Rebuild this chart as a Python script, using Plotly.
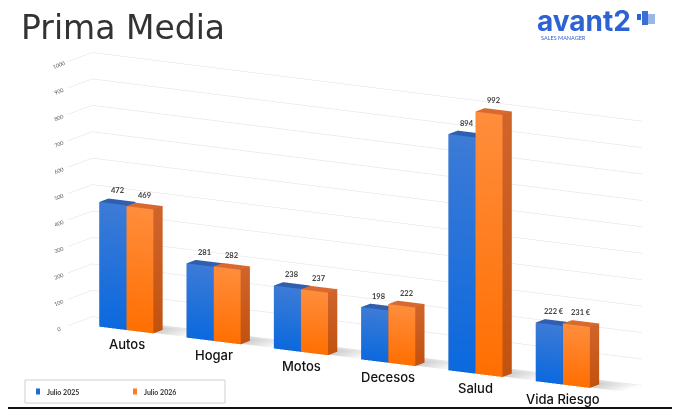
import math
import plotly.graph_objects as go

categories = ["Autos", "Hogar", "Motos", "Decesos", "Salud", "Vida Riesgo"]
series_names = ["Julio 2025", "Julio 2026"]
series_colors = ["#1f6bd0", "#ff7b1f"]
values_2025 = [472, 281, 238, 198, 894, 222]
values_2026 = [469, 282, 237, 222, 992, 231]
labels_2025 = ["472", "281", "238", "198", "894", "222 €"]
labels_2026 = ["469", "282", "237", "222", "992", "231 €"]
z_ticks = [0, 100, 200, 300, 400, 500, 600, 700, 800, 900, 1000]

# page is 680x413; the html body keeps its default 8px margin
OFF = 8
W, H = 680 - OFF, 413 - OFF

def px_x(x):
    return (x - OFF) / W

def px_y(y):
    return 1 - (y - OFF) / H

def box_mesh(values, offset, width, y0, depth, pal, name):
    # pal: front_top, front_bottom, side_top, side_bottom, top, hidden
    ft, fb, st, sb, tp, hd = pal
    xs, ys, zs, I, J, K, vc = [], [], [], [], [], [], []
    for idx, v in enumerate(values):
        x0 = idx + offset - width / 2
        x1 = idx + offset + width / 2
        y1 = y0 + depth
        quads = [
            ([(x0, y0, 0), (x1, y0, 0), (x1, y0, v), (x0, y0, v)], [fb, fb, ft, ft]),
            ([(x1, y0, 0), (x1, y1, 0), (x1, y1, v), (x1, y0, v)], [sb, sb, st, st]),
            ([(x0, y1, 0), (x0, y0, 0), (x0, y0, v), (x0, y1, v)], [sb, sb, st, st]),
            ([(x0, y0, v), (x1, y0, v), (x1, y1, v), (x0, y1, v)], [tp, tp, tp, tp]),
            ([(x0, y1, 0), (x1, y1, 0), (x1, y1, v), (x0, y1, v)], [hd, hd, hd, hd]),
        ]
        for corners, cols in quads:
            base = len(xs)
            for (vx, vy, vz), c in zip(corners, cols):
                xs.append(vx); ys.append(vy); zs.append(vz); vc.append(c)
            I += [base, base]; J += [base + 1, base + 2]; K += [base + 2, base + 3]
    return go.Mesh3d(
        x=xs, y=ys, z=zs, i=I, j=J, k=K, vertexcolor=vc,
        lighting=dict(ambient=1.0, diffuse=0.0, specular=0.0, roughness=1.0, fresnel=0.0),
        name=name, showlegend=False, hoverinfo="skip",
    )

def shadow_mesh(n, half, y0, depth):
    xs, ys, zs, I, J, K, vc = [], [], [], [], [], [], []
    for idx in range(n):
        xl = idx - half + 0.05
        xr = idx + half + 0.38
        yf, yb = y0 + 0.05, y0 + depth + 0.45
        base = len(xs)
        for (vx, vy), c in zip([(xl, yf), (xr, yf), (xr, yb), (xl, yb)],
                               ["#8c8c8c", "#ffffff", "#ffffff", "#d0d0d0"]):
            xs.append(vx); ys.append(vy); zs.append(0); vc.append(c)
        I += [base, base]; J += [base + 1, base + 2]; K += [base + 2, base + 3]
    return go.Mesh3d(
        x=xs, y=ys, z=zs, i=I, j=J, k=K, vertexcolor=vc,
        lighting=dict(ambient=1.0, diffuse=0.0, specular=0.0, roughness=1.0, fresnel=0.0),
        showlegend=False, hoverinfo="skip",
    )

BW = 0.31
Y0 = 0.25
DEPTH = 0.38
blue_pal = ("#3d7bd6", "#0b69de", "#2e5fae", "#1b4f9e", "#2f5fb0", "#153f7a")
orange_pal = ("#ff8d3c", "#ff6f02", "#d0642a", "#c2520f", "#d86a30", "#a8460f")

fig = go.Figure()
fig.add_trace(shadow_mesh(len(categories), BW, Y0, DEPTH))
fig.add_trace(box_mesh(values_2025, -BW / 2, BW, Y0, DEPTH, blue_pal, series_names[0]))
fig.add_trace(box_mesh(values_2026, BW / 2, BW, Y0, DEPTH, orange_pal, series_names[1]))

scene_ann = []
for i, c in enumerate(categories):
    scene_ann.append(dict(x=i, y=Y0, z=0, text=c, showarrow=False, yshift=-14,
                          font=dict(size=13, color="#111111", family="Inter", weight=500)))
for i, (v, t) in enumerate(zip(values_2025, labels_2025)):
    scene_ann.append(dict(x=i - BW / 2, y=Y0 + DEPTH / 2, z=v, text="<b>%s</b>" % t,
                          showarrow=False, yshift=11,
                          font=dict(size=7.5, color="#404040", family="Lato")))
for i, (v, t) in enumerate(zip(values_2026, labels_2026)):
    scene_ann.append(dict(x=i + BW / 2, y=Y0 + DEPTH / 2, z=v, text="<b>%s</b>" % t,
                          showarrow=False, yshift=11,
                          font=dict(size=7.5, color="#404040", family="Lato")))

yaw = math.radians(30)
elev = math.radians(12.5)
dist = 2.0
eye = dict(x=dist * math.sin(yaw) * math.cos(elev),
           y=-dist * math.cos(yaw) * math.cos(elev),
           z=dist * math.sin(elev))

# manual legend box
legend_shapes = [dict(type="rect", xref="paper", yref="paper",
                      x0=px_x(25), x1=px_x(225), y0=px_y(403), y1=px_y(380),
                      line=dict(color="#d0d0d0", width=1), fillcolor="white")]
legend_ann = []
for k, (nm, col) in enumerate(zip(series_names, series_colors)):
    lx = 38 + k * 97
    legend_shapes.append(dict(type="rect", xref="paper", yref="paper",
                              x0=px_x(lx - 2), x1=px_x(lx + 2), y0=px_y(394.5), y1=px_y(388.5),
                              fillcolor=col, line=dict(width=0)))
    legend_ann.append(dict(text="<b>%s</b>" % nm, x=px_x(lx + 7), y=px_y(391.5),
                           xref="paper", yref="paper", xanchor="left", yanchor="middle",
                           showarrow=False, font=dict(size=7, color="#333333", family="Lato")))

fig.update_layout(
    width=W, height=H,
    margin=dict(l=0, r=0, t=0, b=0),
    paper_bgcolor="white", plot_bgcolor="white",
    showlegend=False,
    scene=dict(
        domain=dict(x=[0.045, 0.988], y=[px_y(397), px_y(50)]),
        aspectmode="manual", aspectratio=dict(x=3.66, y=0.28, z=1.56),
        xaxis=dict(range=[-0.6, 5.7], showticklabels=False,
                   showgrid=False, zeroline=False, showline=False, showbackground=False,
                   title=dict(text=""), ticks="", showspikes=False),
        yaxis=dict(range=[0, 1.0], showticklabels=False, showgrid=False, zeroline=False,
                   showline=False, showbackground=False, title=dict(text=""), ticks="",
                   showspikes=False),
        zaxis=dict(range=[0, 1000], tickvals=z_ticks,
                   tickfont=dict(size=8, color="#555555", family="Lato"),
                   showgrid=True, gridcolor="#dedede", gridwidth=1, zeroline=False,
                   showline=False, showbackground=False, title=dict(text=""), ticks="",
                   showspikes=False),
        camera=dict(eye=eye, center=dict(x=0, y=0, z=0),
                    projection=dict(type="orthographic")),
        bgcolor="white",
        annotations=scene_ann,
    ),
    annotations=[
        dict(text="Prima Media", x=px_x(19), y=px_y(27), xref="paper", yref="paper",
             xanchor="left", yanchor="middle", showarrow=False,
             font=dict(size=33, color="#333333", family="DejaVu Sans")),
        dict(text="<b>avant2</b>", x=px_x(535), y=px_y(21), xref="paper", yref="paper",
             xanchor="left", yanchor="middle", showarrow=False,
             font=dict(size=28, color="#2d62d3", family="Inter")),
        dict(text="SALES MANAGER", x=px_x(539), y=px_y(38), xref="paper", yref="paper",
             xanchor="left", yanchor="middle", showarrow=False,
             font=dict(size=5.5, color="#2d62d3", family="Lato")),
    ] + legend_ann,
    shapes=[
        dict(type="rect", xref="paper", yref="paper", x0=px_x(637), x1=px_x(641),
             y0=px_y(20), y1=px_y(14), fillcolor="#2d62d3", line=dict(width=0)),
        dict(type="rect", xref="paper", yref="paper", x0=px_x(642), x1=px_x(648),
             y0=px_y(25), y1=px_y(11), fillcolor="#3a6fd8", line=dict(width=0)),
        dict(type="rect", xref="paper", yref="paper", x0=px_x(648), x1=px_x(655),
             y0=px_y(24), y1=px_y(14), fillcolor="#9db6ea", line=dict(width=0)),
        dict(type="line", xref="paper", yref="paper", x0=0, x1=1, y0=px_y(408), y1=px_y(408),
             line=dict(color="#111111", width=2)),
    ] + legend_shapes,
)

fig.write_html("out.html")
